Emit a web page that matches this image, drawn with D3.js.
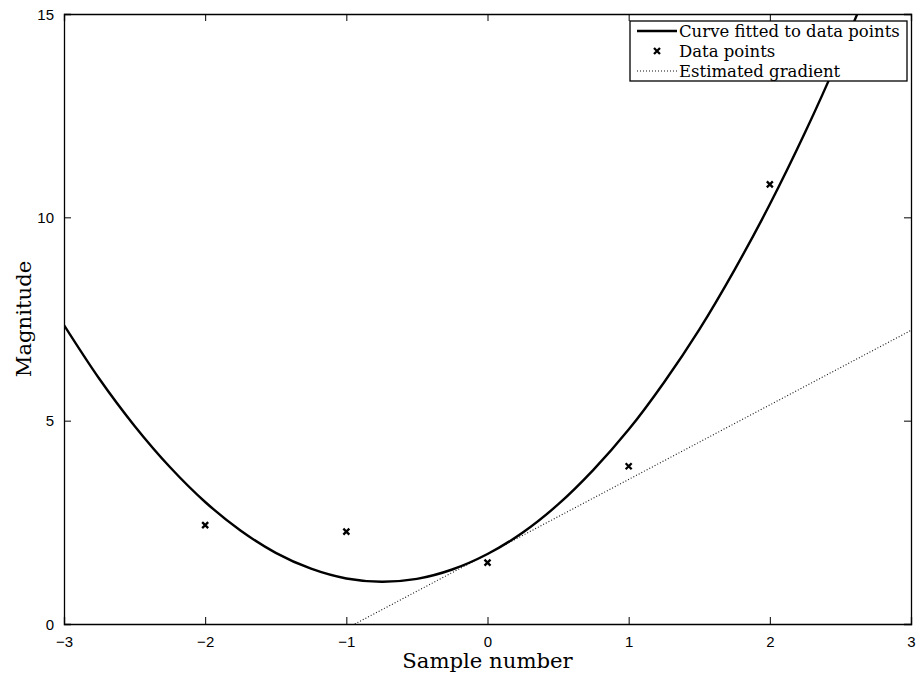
<!DOCTYPE html>
<html>
<head>
<meta charset="utf-8">
<script src="https://cdn.jsdelivr.net/npm/d3@7"></script>
<style>
  html, body { margin: 0; padding: 0; background: #fff; }
  svg { display: block; }
</style>
</head>
<body>
<svg id="chart" width="916" height="678"></svg>
<script>
// Sample positions and measured magnitudes
const sampleX = [-2, -1, 0, 1, 2];
const sampleY = [2.43, 2.27, 1.51, 3.88, 10.81];

// Fitted curve, sampled every quarter step
const curveX = [-3, -2.75, -2.5, -2.25, -2, -1.75, -1.5, -1.25, -1, -0.75, -0.5, -0.25,
                0, 0.25, 0.5, 0.75, 1, 1.25, 1.5, 1.75, 2, 2.25, 2.5, 2.75];
const curveY = [7.35, 6.03, 4.87, 3.86, 3.00, 2.30, 1.75, 1.36, 1.12, 1.04, 1.11, 1.34,
                1.72, 2.25, 2.94, 3.79, 4.78, 5.94, 7.24, 8.71, 10.32, 12.09, 14.02, 16.10];

// Estimated gradient line endpoints
const gradX = [-0.94, 3];
const gradY = [0, 7.22];

const xTicks = [-3, -2, -1, 0, 1, 2, 3];
const yTicks = [0, 5, 10, 15];
const legendLabels = ["Curve fitted to data points", "Data points", "Estimated gradient"];

const svg = d3.select("#chart");
const m = { left: 64, right: 5, top: 14, bottom: 54 };
const W = 916, H = 678;
const x = d3.scaleLinear().domain([-3, 3]).range([m.left, W - m.right]);
const y = d3.scaleLinear().domain([0, 15]).range([H - m.bottom, m.top]);

svg.append("defs").append("clipPath").attr("id", "plotclip")
  .append("rect")
  .attr("x", x(-3)).attr("y", y(15))
  .attr("width", x(3) - x(-3)).attr("height", y(0) - y(15));

const tickFont = "Liberation Sans, Arial, sans-serif";
const serif = "DejaVu Serif, serif";

// Axes with inward ticks on all four sides
const tickLen = 7;
const axB = svg.append("g").attr("transform", `translate(0,${y(0)})`)
  .call(d3.axisBottom(x).tickValues(xTicks).tickSize(-tickLen).tickPadding(tickLen + 5)
    .tickFormat(d => d < 0 ? "\u2212" + Math.abs(d) : d));
const axT = svg.append("g").attr("transform", `translate(0,${y(15)})`)
  .call(d3.axisTop(x).tickValues(xTicks).tickSize(-tickLen).tickFormat(""));
const axL = svg.append("g").attr("transform", `translate(${x(-3)},0)`)
  .call(d3.axisLeft(y).tickValues(yTicks).tickSize(-tickLen).tickPadding(tickLen + 3));
const axR = svg.append("g").attr("transform", `translate(${x(3)},0)`)
  .call(d3.axisRight(y).tickValues(yTicks).tickSize(-tickLen).tickFormat(""));

[axB, axT, axL, axR].forEach(g => {
  g.select(".domain").attr("stroke", "#000").attr("stroke-width", 1.3);
  g.selectAll(".tick line").attr("stroke", "#000").attr("stroke-width", 1);
  g.selectAll(".tick text").attr("font-family", tickFont).attr("font-size", 15).attr("fill", "#000");
});
axL.selectAll(".tick text").attr("dy", "0.35em");

const plot = svg.append("g").attr("clip-path", "url(#plotclip)");

// Estimated gradient (dotted)
plot.append("path")
  .datum(gradX.map((d, i) => [d, gradY[i]]))
  .attr("d", d3.line().x(d => x(d[0])).y(d => y(d[1])))
  .attr("fill", "none").attr("stroke", "#111").attr("stroke-width", 1.1)
  .attr("stroke-dasharray", "1,2");

// Fitted curve
plot.append("path")
  .datum(curveX.map((d, i) => [d, curveY[i]]))
  .attr("d", d3.line().x(d => x(d[0])).y(d => y(d[1])).curve(d3.curveCatmullRom.alpha(0.5)))
  .attr("fill", "none").attr("stroke", "#000").attr("stroke-width", 2.4);

// Cross markers
const cross = (g, cx, cy, s) => {
  g.append("path")
    .attr("d", `M${cx - s},${cy - s}L${cx + s},${cy + s}M${cx - s},${cy + s}L${cx + s},${cy - s}`)
    .attr("stroke", "#000").attr("stroke-width", 2.3).attr("fill", "none");
};
sampleX.forEach((d, i) => cross(plot, x(d), y(sampleY[i]), 3));

// Legend
const lg = svg.append("g");
const lx = 630, ly = 21, lw = 277, lh = 60;
lg.append("rect").attr("x", lx).attr("y", ly).attr("width", lw).attr("height", lh)
  .attr("fill", "#fff").attr("stroke", "#000").attr("stroke-width", 1.3);
const rowY = [31, 51, 71];
lg.append("line").attr("x1", 637).attr("x2", 677).attr("y1", rowY[0]).attr("y2", rowY[0])
  .attr("stroke", "#000").attr("stroke-width", 2.4);
cross(lg, 657, rowY[1], 3);
lg.append("line").attr("x1", 637).attr("x2", 677).attr("y1", rowY[2]).attr("y2", rowY[2])
  .attr("stroke", "#111").attr("stroke-width", 1.1).attr("stroke-dasharray", "1,2");
legendLabels.forEach((t, i) => {
  lg.append("text").attr("x", 679).attr("y", rowY[i]).attr("dy", "0.34em")
    .attr("font-family", serif).attr("font-size", 16.5).attr("fill", "#000").text(t);
});

// Axis titles
svg.append("text").attr("x", (x(-3) + x(3)) / 2).attr("y", 668)
  .attr("text-anchor", "middle").attr("font-family", serif).attr("font-size", 21.2)
  .text("Sample number");
svg.append("text").attr("transform", `translate(31,${(y(0) + y(15)) / 2}) rotate(-90)`)
  .attr("text-anchor", "middle").attr("font-family", serif).attr("font-size", 21.2)
  .text("Magnitude");
</script>
</body>
</html>
